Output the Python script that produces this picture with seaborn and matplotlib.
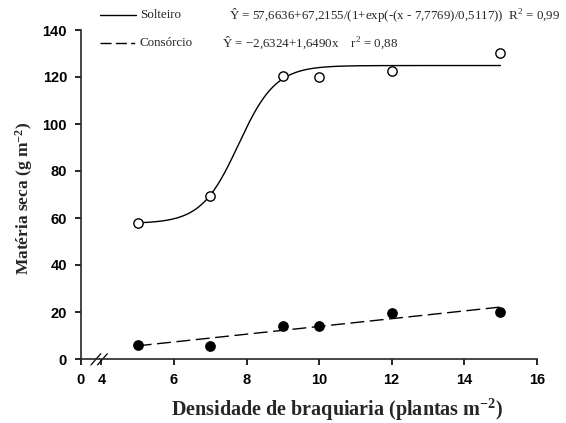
import numpy as np
import pandas as pd
import matplotlib
matplotlib.use("Agg")
import matplotlib.pyplot as plt
from matplotlib.lines import Line2D
import seaborn as sns

# observed data
densidade = [5, 7, 9, 10, 12, 15]
solteiro = [58, 69.5, 120.5, 120, 122.5, 130]
consorcio = [6, 5.5, 14, 14, 19.5, 20]

# fitted models (coefficients as printed on the chart)
sig_a, sig_b, sig_x0, sig_s = 57.6636, 67.2155, 7.7769, 0.5117
lin_a, lin_b = -2.6324, 1.6490

xticks = [4, 6, 8, 10, 12, 14, 16]
yticks = [0, 20, 40, 60, 80, 100, 120, 140]

sns.set_theme(style="ticks")
plt.rcParams['font.family'] = ['Liberation Sans', 'DejaVu Sans']
plt.rcParams['mathtext.fontset'] = 'custom'
plt.rcParams['mathtext.rm'] = 'Liberation Serif'
plt.rcParams['mathtext.it'] = 'Liberation Serif:italic'
plt.rcParams['mathtext.bf'] = 'Liberation Serif:bold'

fig = plt.figure(figsize=(5.66, 4.23), dpi=100)
ax = fig.add_axes([81 / 566, 1 - 359 / 423, (536.7 - 81) / 566, 329 / 423])

df = pd.DataFrame({"x": densidade, "Solteiro": solteiro, "Consórcio": consorcio})

xs = np.linspace(min(densidade), max(densidade), 300)
fit = pd.DataFrame({
    "x": xs,
    "sol": sig_a + sig_b / (1 + np.exp(-(xs - sig_x0) / sig_s)),
    "con": lin_a + lin_b * xs,
})

sns.lineplot(data=fit, x="x", y="sol", ax=ax, color="black", linewidth=1)
sns.lineplot(data=fit, x="x", y="con", ax=ax, color="black", linewidth=1,
             linestyle=(0, (10, 4)))
sns.scatterplot(data=df, x="x", y="Solteiro", ax=ax, s=45, facecolor="white",
                edgecolor="black", linewidth=1, zorder=3)
sns.scatterplot(data=df, x="x", y="Consórcio", ax=ax, s=45, color="black",
                edgecolor="black", linewidth=1, zorder=3)

ax.set_xlim(3.435, 16)
ax.set_ylim(0, 140)
ax.set_xticks([3.435] + xticks)
ax.set_xticklabels(["0"] + [str(t) for t in xticks])
ax.set_yticks(yticks)
sns.despine(ax=ax)
for sp in ["left", "bottom"]:
    ax.spines[sp].set_linewidth(1.2)
ax.tick_params(direction="out", length=4, width=1.2, colors="black", pad=6)
for lab in ax.get_xticklabels() + ax.get_yticklabels():
    lab.set_fontweight("bold")
    lab.set_fontsize(10.5)

# axis break marks
tr = ax.get_xaxis_transform()
for x0 in [3.71, 3.89]:
    ax.plot([x0, x0 + 0.27], [-0.018, 0.016], transform=tr, color="black",
            linewidth=0.9, clip_on=False)

ax.set_xlabel(r"Densidade de braquiaria (plantas m$^{\mathbf{-2}}$)",
              family="Liberation Serif", fontweight="bold", fontsize=14.5)
ax.set_ylabel(r"Matéria seca (g m$^{\mathbf{-2}}$)",
              family="Liberation Serif", fontweight="bold", fontsize=12.5)
ax.xaxis.label.set_va("center")
ax.xaxis.set_label_coords(0.562, -0.156)
ax.yaxis.label.set_va("center")
ax.yaxis.set_label_coords(-0.125, 0.489)

# legend with equations
W, H = 566, 423
rows = [
    ("-", "Solteiro", "Ŷ = 57,6636+67,2155/(1+exp(-(x - 7,7769)/0,5117))  R$^2$ = 0,99", 15, 229),
    ((0, (8, 3, 8, 3, 3, 50)), "Consórcio", "Ŷ = −2,6324+1,6490x    r$^2$ = 0,88", 43, 222),
]
for ls, name, eq, yp, xe in rows:
    fig.add_artist(Line2D([100 / W, 136 / W], [1 - yp / H, 1 - yp / H],
                          transform=fig.transFigure, color="black", linewidth=1,
                          linestyle=ls))
    fig.text(140 / W, 1 - yp / H, name, family="Liberation Serif", fontsize=9.4,
             va="center", ha="left")
    fig.text(xe / W, 1 - yp / H, eq, family="Liberation Serif", fontsize=9.4,
             va="center", ha="left")

fig.savefig("out.png", dpi=100)
